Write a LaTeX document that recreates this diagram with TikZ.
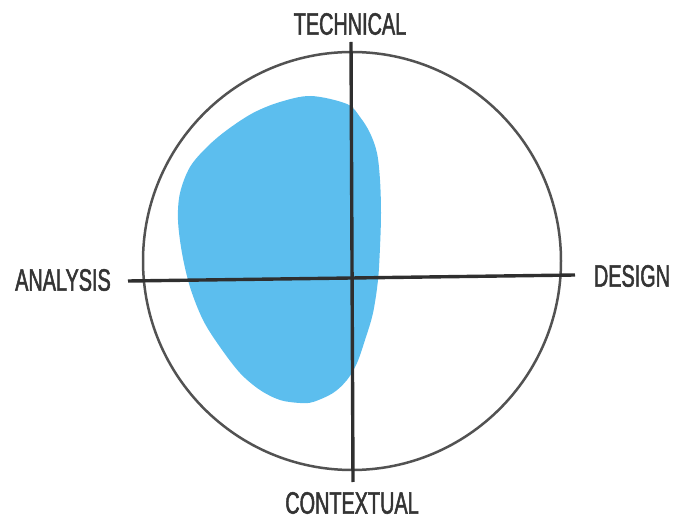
\documentclass[tikz,border=0pt]{standalone}
\usepackage{fontspec}
\setmainfont[FakeStretch=0.64,FakeBold=1.6]{Liberation Sans}
\definecolor{blobblue}{RGB}{92,190,238}
\definecolor{ink}{RGB}{52,52,52}
\begin{document}
\begin{tikzpicture}[x=1pt,y=-1pt,
  axislabel/.style={inner sep=0pt,text=ink,font=\fontsize{31}{31}\selectfont},
  axisline/.style={draw=ink!90!black,line width=3.4pt},
  ringline/.style={draw=ink!85,line width=2.5pt}]
\useasboundingbox (0,0) rectangle (675,521);
% blob
\fill[blobblue] plot[smooth cycle,tension=0.55] coordinates {
 (311,96) (347,104) (360,117) (370,133) (377,153) (380,180) (381,213)
 (380,247) (378,280) (373,313) (365,340) (357,363) (347,380) (333,393)
 (313,402) (300,403) (280,400) (260,390) (240,373) (220,347) (203,320)
 (190,287) (182,253) (178,220) (180,193) (190,167) (207,147) (227,130)
 (253,113) (280,102)};
% ring
\node[circle,ringline,minimum size=418pt,inner sep=0pt] (ring) at (352,261) {};
% axes
\coordinate (top) at (351,42);
\coordinate (bottom) at (353,482);
\coordinate (left) at (128,281);
\coordinate (right) at (575,275);
\draw[axisline] (left) -- (right);
\draw[axisline] (top) -- (bottom);
% labels
\node[axislabel] (technical) at (350,24) {TECHNICAL};
\node[axislabel] (analysis) at (63,280) {ANALYSIS};
\node[axislabel] (design) at (632,276) {DESIGN};
\node[axislabel] (contextual) at (352,503) {CONTEXTUAL};
\end{tikzpicture}
\end{document}
